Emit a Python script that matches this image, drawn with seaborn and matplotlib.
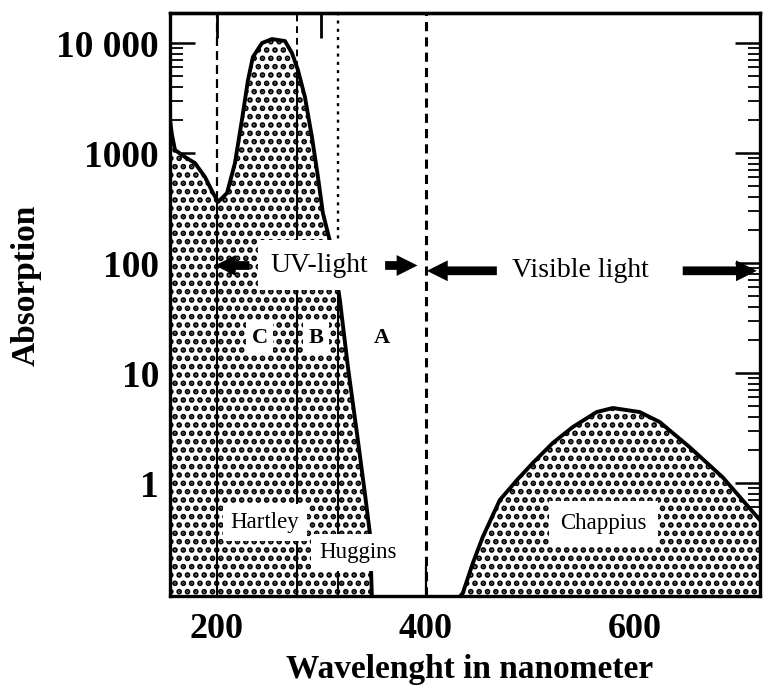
import numpy as np
import matplotlib
matplotlib.use("Agg")
import matplotlib.pyplot as plt
import seaborn as sns

# Hartley + Huggins band (UV part)
uv_nm = [155, 156.9, 159.8, 169.4, 178.9, 188.5, 196.2, 201, 209.6, 217.2, 223.9, 229.7,
         234.4, 243.1, 252.6, 265.1, 271.8, 277.5, 284.2, 290.9, 296.7, 301.4, 311,
         317.7, 325.4, 334, 341.6, 346.4, 348.3]
uv_abs = [2000, 1460, 1065, 920, 810, 605, 433, 359, 433, 810, 2000, 4610,
          7460, 10000, 10870, 10420, 8110, 5690, 3230, 1400, 605, 285, 123,
          46, 11.3, 2.85, 0.81, 0.35, 0.094]

# Chappius band (visible part)
chap_nm = [433, 435.4, 445, 454.5, 470.8, 487.1, 502.4, 521.5, 540.7, 563.6, 579,
           604.8, 623.9, 652.6, 684.2, 720]
chap_abs = [0.094, 0.10, 0.187, 0.323, 0.70, 1.06, 1.52, 2.31, 3.23, 4.42, 4.81,
            4.42, 3.59, 2.12, 1.13, 0.46]

ytick_vals = [1, 10, 100, 1000, 10000]
ytick_text = ["1", "10", "100", "1000", "10 000"]
xtick_major = [200, 400, 600]
xtick_minor = [300, 500, 700]
top_ticks = [200, 300]

# band borders in nm: C | B | A | visible
c_start, b_start, a_start, vis_start = 200, 277, 316, 400

sns.set_theme(style="ticks")
plt.rcParams["font.family"] = ["Liberation Serif", "DejaVu Serif"]
plt.rcParams["hatch.linewidth"] = 2.8
for key in ["text.color", "axes.labelcolor", "xtick.color", "ytick.color"]:
    plt.rcParams[key] = "black"

fig, ax = plt.subplots(figsize=(7.63, 6.88), dpi=100)
fig.subplots_adjust(left=170 / 763, right=760 / 763, bottom=1 - 596 / 688, top=1 - 13 / 688)
ax.set_yscale("log")

for nm, ab in [(uv_nm, uv_abs), (chap_nm, chap_abs)]:
    ax.fill_between(nm, ab, 0.05, facecolor="white", edgecolor="black",
                    hatch="..", linewidth=0, zorder=1)
    sns.lineplot(x=nm, y=ab, ax=ax, color="black", lw=2.8, zorder=3, sort=False)


def curve_at(x):
    return 10 ** np.interp(x, uv_nm, np.log10(uv_abs))


ymin, ymax = 0.094, 18750
# vertical band borders: solid inside the band, broken above it
for x, dash, lw in [(c_start, (4, 2.3), 1.6), (b_start, (3.5, 2.5), 1.4), (a_start, (1.3, 2.2), 1.7)]:
    yc = curve_at(x)
    ax.vlines(x, ymin, yc, colors="black", lw=1.5, zorder=2)
    ax.vlines(x, yc, ymax, colors="black", lw=lw, linestyles=[(0, dash)], zorder=2)
ax.vlines(vis_start, ymin, ymax, colors="black", lw=2.2, linestyles=[(0, (3, 2))], zorder=2)

# arrows for UV and visible ranges
arrow = dict(arrowstyle="simple,head_width=1.0,head_length=1.0,tail_width=0.42",
             mutation_scale=15, color="black", lw=0, shrinkA=0, shrinkB=0)
uv_y, vis_y = 95, 85
ax.annotate("", xy=(198, uv_y), xytext=(231, uv_y), arrowprops=arrow, zorder=6)
ax.annotate("", xy=(392, uv_y), xytext=(361, uv_y), arrowprops=arrow, zorder=6)
ax.annotate("", xy=(401, vis_y), xytext=(468, vis_y), arrowprops=arrow, zorder=6)
ax.annotate("", xy=(717, vis_y), xytext=(646, vis_y), arrowprops=arrow, zorder=6)

box = dict(facecolor="white", edgecolor="none", boxstyle="square,pad=0.35")
ax.text(298, uv_y, "UV-light", fontsize=20, ha="center", va="center", zorder=5,
        bbox=dict(facecolor="white", edgecolor="none", boxstyle="square,pad=0.45"))
ax.text(548, vis_y, "Visible light", fontsize=20, ha="center", va="center", zorder=5)
ax.text(246, 0.44, "Hartley", fontsize=16.5, ha="center", va="center", zorder=5, bbox=box)
ax.text(335, 0.236, "Huggins", fontsize=16.5, ha="center", va="center", zorder=5, bbox=box)
ax.text(570, 0.43, "Chappius", fontsize=16.5, ha="center", va="center", zorder=5,
        bbox=dict(facecolor="white", edgecolor="none", boxstyle="square,pad=0.5"))
for x, letter in [(241, "C"), (295, "B"), (358, "A")]:
    ax.text(x, 21, letter, fontsize=16, fontweight="bold", ha="center", va="center",
            zorder=5, bbox=dict(facecolor="white", edgecolor="none", boxstyle="square,pad=0.25"))

ax.set_xlim(155, 720)
ax.set_ylim(ymin, ymax)

ax.set_yticks(ytick_vals)
ax.set_yticklabels(ytick_text)
ax.yaxis.set_minor_locator(matplotlib.ticker.LogLocator(subs=np.arange(2, 10)))
ax.yaxis.set_minor_formatter(matplotlib.ticker.NullFormatter())
ax.set_xticks(xtick_major)
ax.set_xticks(xtick_minor, minor=True)

ax.tick_params(axis="y", which="major", direction="in", left=True, right=True,
               length=18, width=1.8, labelsize=27, pad=8)
ax.tick_params(axis="y", which="minor", direction="in", left=True, right=True,
               length=9, width=1.3)
ax.tick_params(axis="x", which="both", direction="in", bottom=True, top=False,
               length=22, width=1.6, labelsize=26, pad=12)
for lab in ax.get_xticklabels() + ax.get_yticklabels():
    lab.set_fontweight("bold")

top = ax.secondary_xaxis("top")
top.set_xticks(top_ticks)
top.tick_params(direction="in", length=18, width=2, labeltop=False)
top.spines["top"].set_linewidth(2.4)

for s in ax.spines.values():
    s.set_linewidth(2.4)
    s.set_color("black")

ax.set_xlabel("Wavelenght in nanometer", fontsize=24, fontweight="bold")
ax.set_ylabel("Absorption", fontsize=24, fontweight="bold")
ax.xaxis.set_label_coords(0.508, -0.1)
ax.yaxis.set_label_coords(-0.218, 0.532)

fig.savefig("out.png", dpi=100)
